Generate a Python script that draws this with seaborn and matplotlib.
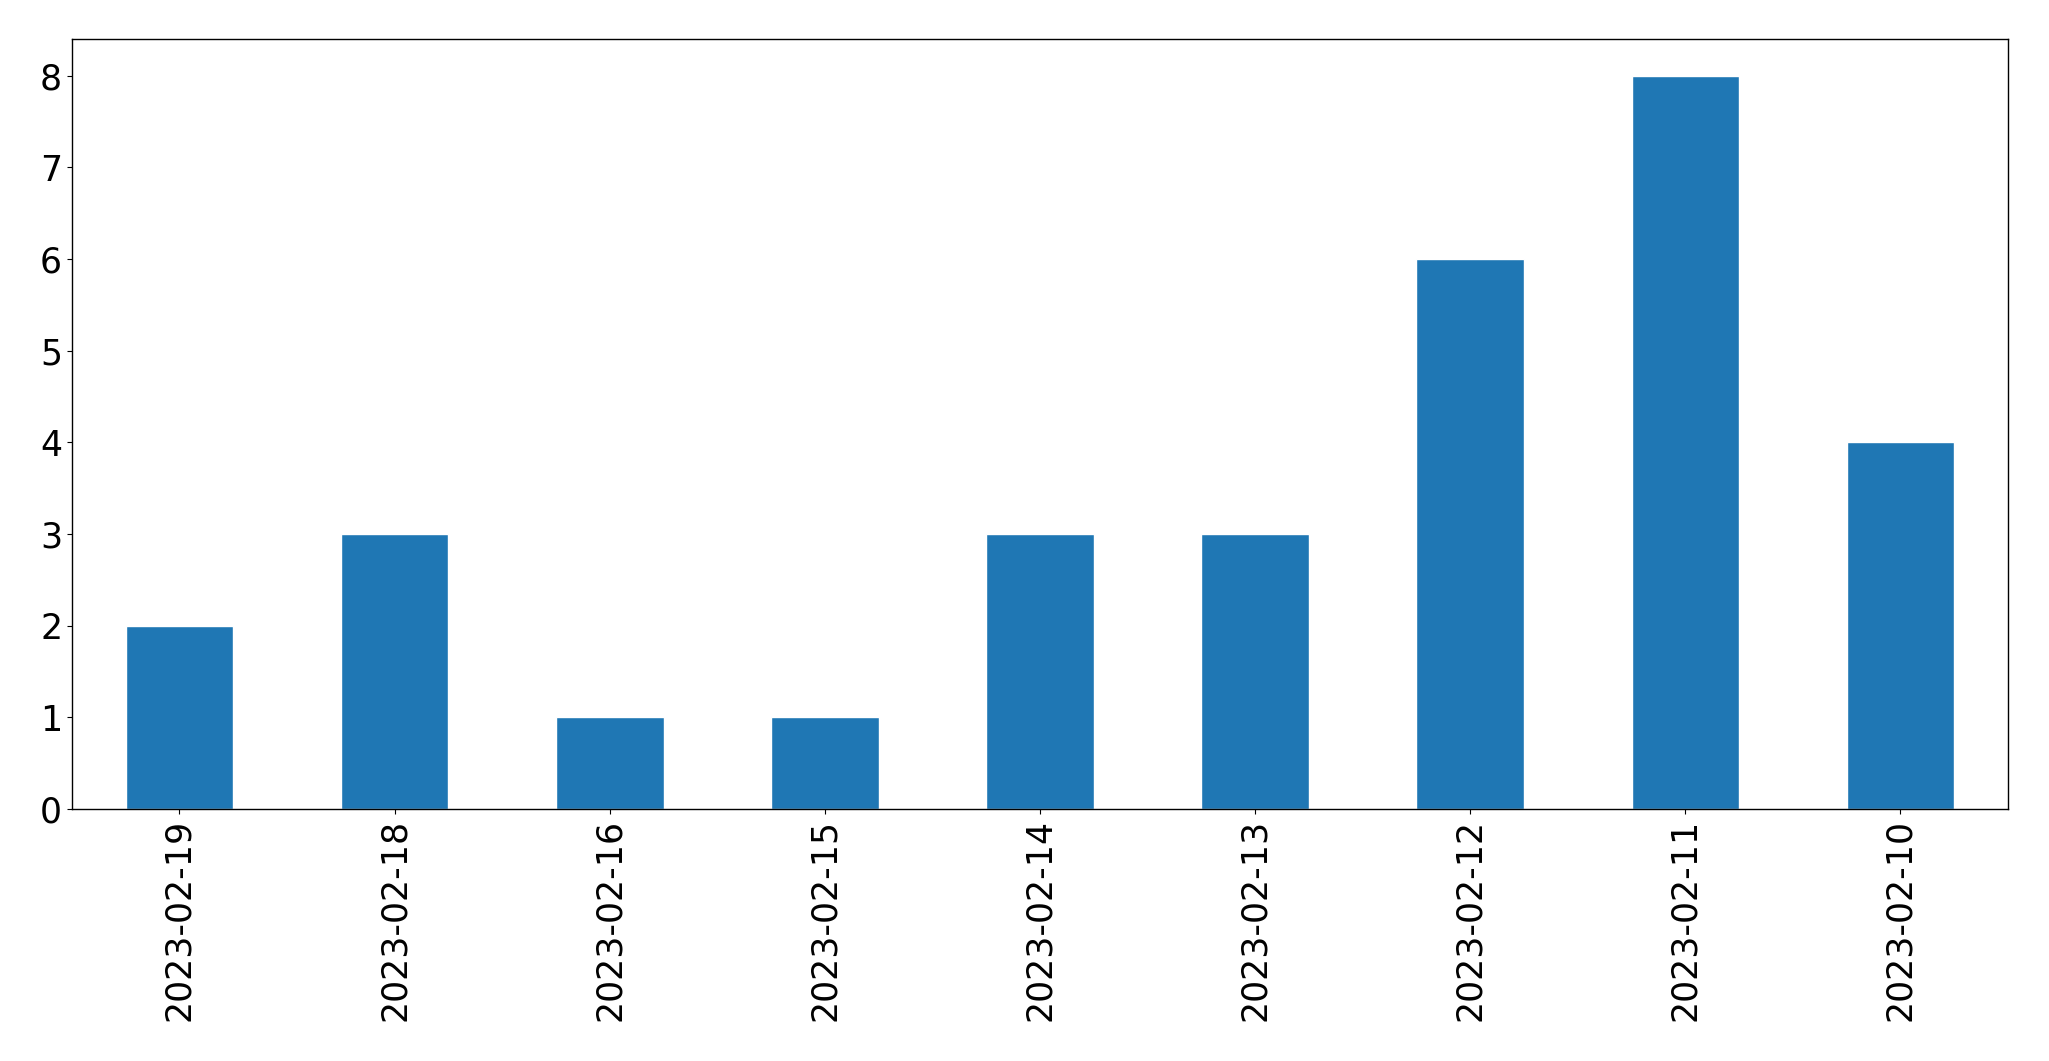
import matplotlib
matplotlib.use('Agg')
from matplotlib import pyplot as plt
import seaborn as sns
import pandas as pd

dates = ['2023-02-19', '2023-02-18', '2023-02-16', '2023-02-15', '2023-02-14',
         '2023-02-13', '2023-02-12', '2023-02-11', '2023-02-10']
counts = [2, 3, 1, 1, 3, 3, 6, 8, 4]

df = pd.DataFrame({'date': dates, 'count': counts})

sns.set_style('ticks', rc={'text.color': 'black', 'xtick.color': 'black',
                           'ytick.color': 'black', 'axes.edgecolor': 'black',
                           'axes.labelcolor': 'black'})
plt.rcParams['font.family'] = ['DejaVu Sans']

fig, ax = plt.subplots(1, 1, figsize=(20.49, 10.61), dpi=100)
fig.subplots_adjust(left=0.0351, right=0.980, top=0.9632, bottom=0.2375)

sns.barplot(x='date', y='count', data=df, color='#1f77b4', saturation=1,
            width=0.5, ax=ax)

ax.set_xlim(-0.5, len(dates) - 0.5)
ax.set_ylim(0, 8.4)
ax.set_xlabel('')
ax.set_ylabel('')
ax.tick_params(axis='x', labelrotation=90, labelsize=25, colors='black')
ax.tick_params(axis='y', labelsize=25, colors='black')
for s in ax.spines.values():
    s.set_visible(True)
    s.set_linewidth(1)
    s.set_color('black')

fig.savefig('out.png', dpi=100)
